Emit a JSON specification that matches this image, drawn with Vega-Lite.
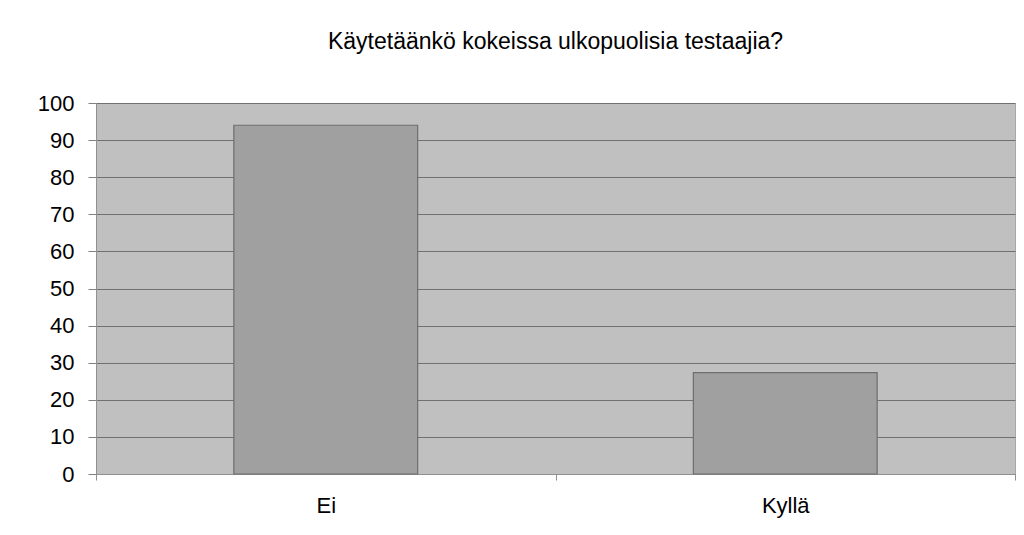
{
  "$schema": "https://vega.github.io/schema/vega-lite/v6.json",
  "width": 919,
  "height": 371,
  "autosize": {"type": "none"},
  "padding": {"left": 96, "top": 103, "right": 9, "bottom": 61},
  "background": "white",
  "title": {
    "text": "Käytetäänkö kokeissa ulkopuolisia testaajia?",
    "font": "Liberation Sans",
    "fontSize": 23,
    "fontWeight": "normal",
    "color": "black",
    "anchor": "middle",
    "offset": 38
  },
  "config": {
    "view": {"fill": "#c0c0c0", "stroke": "#a8a8a8"},
    "axis": {"labelFont": "Liberation Sans", "labelColor": "black"}
  },
  "data": {
    "values": [
      {"vastaus": "Ei", "arvo": 94},
      {"vastaus": "Kyllä", "arvo": 27.3}
    ]
  },
  "mark": {"type": "bar", "fill": "#a0a0a0", "stroke": "#6e6e6e", "strokeWidth": 1.2, "width": {"band": 0.4}},
  "encoding": {
    "x": {
      "field": "vastaus",
      "type": "nominal",
      "sort": null,
      "scale": {"paddingInner": 0, "paddingOuter": 0},
      "axis": {
        "title": null,
        "labelAngle": 0,
        "labelFontSize": 22,
        "labelPadding": 15,
        "tickBand": "extent",
        "tickSize": 6,
        "tickColor": "#909090",
        "domainColor": "#909090",
        "grid": false
      }
    },
    "y": {
      "field": "arvo",
      "type": "quantitative",
      "scale": {"domain": [0, 100], "nice": false},
      "axis": {
        "title": null,
        "values": [0, 10, 20, 30, 40, 50, 60, 70, 80, 90, 100],
        "labelFontSize": 22,
        "labelPadding": 14,
        "tickSize": 8,
        "tickColor": "#808080",
        "domainColor": "#909090",
        "gridColor": "#707070",
        "gridWidth": 1,
        "gridOpacity": 1
      }
    }
  }
}
